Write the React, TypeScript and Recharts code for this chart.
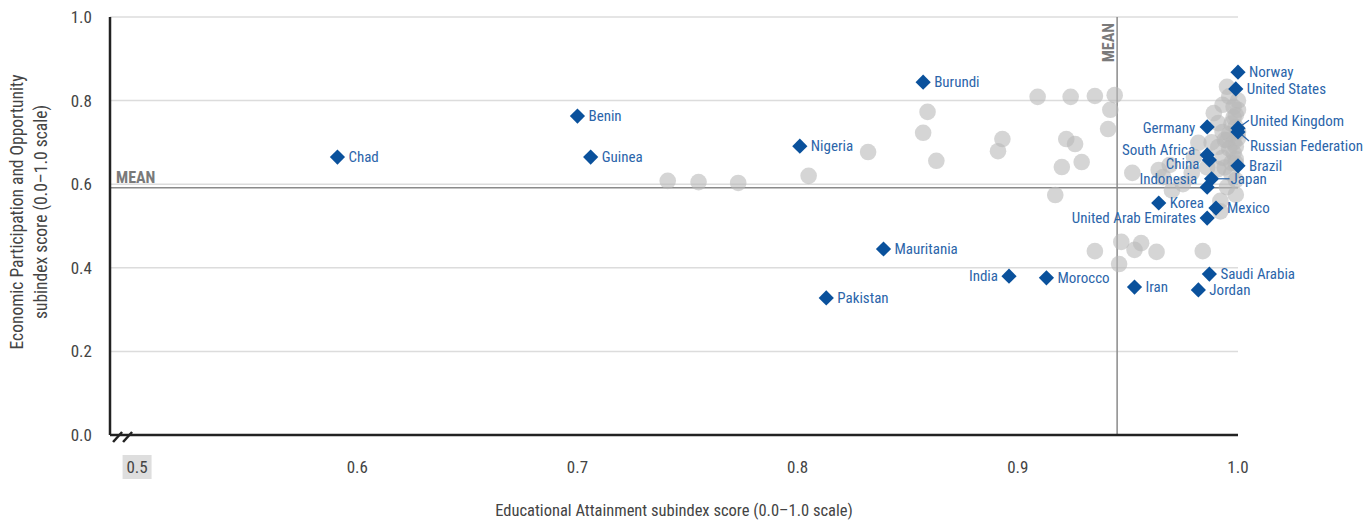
import React from "react";
import {
  ScatterChart,
  Scatter,
  XAxis,
  YAxis,
  CartesianGrid,
  ReferenceLine,
  Label,
} from "recharts";

const FONT =
  "'Liberation Sans Narrow', 'Arial Narrow', 'Roboto Condensed', 'DejaVu Sans Condensed', sans-serif";

// highlighted countries
const countries = [
  "Chad", "Benin", "Guinea", "Nigeria", "Burundi", "Mauritania", "Pakistan",
  "India", "Morocco", "Iran", "Jordan", "Saudi Arabia", "Korea",
  "United Arab Emirates", "Mexico", "Indonesia", "Japan", "China",
  "South Africa", "Germany", "Norway", "United States", "United Kingdom",
  "Russian Federation", "Brazil",
];
const educationScores = [
  0.591, 0.7, 0.706, 0.801, 0.857, 0.839, 0.813,
  0.896, 0.913, 0.953, 0.982, 0.987, 0.964,
  0.986, 0.99, 0.986, 0.988, 0.987,
  0.986, 0.986, 1.0, 0.999, 1.0,
  1.0, 1.0,
];
const economicScores = [
  0.665, 0.763, 0.665, 0.691, 0.844, 0.445, 0.328,
  0.38, 0.376, 0.354, 0.347, 0.385, 0.555,
  0.519, 0.543, 0.593, 0.613, 0.658,
  0.67, 0.737, 0.868, 0.828, 0.734,
  0.725, 0.644,
];

// all other countries (grey dots)
const otherEducation = [
  0.741, 0.755, 0.773, 0.805, 0.832, 0.859, 0.857, 0.863, 0.891, 0.893,
  0.909, 0.924, 0.935, 0.944, 0.942, 0.941, 0.922, 0.926, 0.929, 0.92,
  0.952, 0.917, 0.935, 0.947, 0.953, 0.956, 0.963, 0.946, 0.984,
  0.995, 0.993, 0.991, 1.0, 0.999, 0.994, 0.991, 0.982, 0.98, 0.993,
  0.997, 0.999, 0.995, 0.991, 0.979, 0.969, 0.966, 1.0, 0.998, 0.996,
  0.999, 0.998, 0.994, 0.999, 0.992, 0.988, 0.986, 0.975, 0.97, 0.989,
  0.996, 1.0, 0.999, 0.964, 0.992,
  0.998, 0.999, 0.997, 1.0, 0.998, 0.996, 0.999, 0.997, 0.995, 0.993,
];
const otherEconomic = [
  0.608, 0.605, 0.603, 0.62, 0.677, 0.773, 0.723, 0.656, 0.679, 0.708,
  0.809, 0.809, 0.811, 0.813, 0.778, 0.732, 0.708, 0.696, 0.653, 0.641,
  0.627, 0.574, 0.44, 0.462, 0.443, 0.459, 0.438, 0.409, 0.44,
  0.833, 0.79, 0.746, 0.778, 0.737, 0.706, 0.689, 0.699, 0.665, 0.663,
  0.651, 0.61, 0.593, 0.636, 0.627, 0.646, 0.617, 0.8, 0.76, 0.72,
  0.69, 0.675, 0.64, 0.575, 0.56, 0.7, 0.64, 0.6, 0.585, 0.77,
  0.81, 0.71, 0.66, 0.634, 0.535,
  0.785, 0.765, 0.745, 0.725, 0.7, 0.685, 0.65, 0.625, 0.705, 0.725,
];

const xTicks = [0.5, 0.6, 0.7, 0.8, 0.9, 1.0];
const yTicks = [0, 0.2, 0.4, 0.6, 0.8, 1.0];
const meanEducation = 0.9451;
const meanEconomic = 0.5916;

const highlighted = countries.map((name, i) => ({
  name,
  x: educationScores[i],
  y: economicScores[i],
}));
const others = otherEducation.map((x, i) => ({ x, y: otherEconomic[i] }));

// label placement, pixel offsets from the marker
type Place = { dx: number; dy: number; end?: boolean; leader?: number[] };
const placement: Record<string, Place> = {
  India: { dx: -11, dy: 0, end: true },
  "United Arab Emirates": { dx: -11, dy: 0, end: true },
  Indonesia: { dx: -10, dy: -8, end: true },
  China: { dx: -10, dy: 4, end: true },
  "South Africa": { dx: -12, dy: -5, end: true },
  Germany: { dx: -12, dy: 1, end: true },
  Japan: { dx: 19, dy: 0, leader: [7, 0, 18, 0] },
  "United Kingdom": { dx: 12, dy: -7, leader: [4, -3, 11, -8] },
  "Russian Federation": { dx: 12, dy: 14, leader: [4, 3, 11, 9] },
};

const BLUE = "#0a519c";
const LABEL_BLUE = "#2b65aa";

function Dot(props: any) {
  const { cx, cy } = props;
  return <circle cx={cx} cy={cy} r={8.3} fill="#b9b9b9" fillOpacity={0.6} />;
}

function Diamond(props: any) {
  const { cx, cy, payload } = props;
  const p = placement[payload.name] || { dx: 11, dy: 0 };
  const s = 7.6;
  return (
    <g>
      <path
        d={`M${cx},${cy - s}L${cx + s},${cy}L${cx},${cy + s}L${cx - s},${cy}Z`}
        fill={BLUE}
      />
      {p.leader && (
        <line
          x1={cx + p.leader[0]}
          y1={cy + p.leader[1]}
          x2={cx + p.leader[2]}
          y2={cy + p.leader[3]}
          stroke={LABEL_BLUE}
          strokeWidth={1.2}
        />
      )}
      <text
        x={cx + p.dx}
        y={cy + p.dy}
        textAnchor={p.end ? "end" : "start"}
        dominantBaseline="central"
        fontFamily={FONT}
        fontSize={15}
        fill={LABEL_BLUE}
      >
        {payload.name}
      </text>
    </g>
  );
}

function XTick(props: any) {
  const { x, y, payload } = props;
  const v = payload.value;
  return (
    <g>
      {v === 0.5 && (
        <>
          <rect x={x - 14.5} y={y + 20} width={29} height={24} fill="#dedede" />
          <line x1={x - 24} y1={y + 7} x2={x - 15} y2={y - 3} stroke="#222" strokeWidth={2.5} />
          <line x1={x - 14} y1={y + 7} x2={x - 5} y2={y - 3} stroke="#222" strokeWidth={2.5} />
        </>
      )}
      <text
        x={x}
        y={y + 32}
        textAnchor="middle"
        dominantBaseline="central"
        fontFamily={FONT}
        fontSize={17}
        fill="#444"
      >
        {v.toFixed(1)}
      </text>
    </g>
  );
}

function YTick(props: any) {
  const { x, y, payload } = props;
  return (
    <text
      x={x - 18}
      y={y}
      textAnchor="end"
      dominantBaseline="central"
      fontFamily={FONT}
      fontSize={17}
      fill="#444"
    >
      {payload.value.toFixed(1)}
    </text>
  );
}

function YTitle(props: any) {
  const { viewBox } = props;
  const cy = viewBox.y + 195;
  return (
    <g fontFamily={FONT} fontSize={17.5} fill="#444" textAnchor="middle">
      <text x={15} y={cy} transform={`rotate(-90, 15, ${cy})`}>
        Economic Participation and Opportunity
      </text>
      <text x={39} y={cy} transform={`rotate(-90, 39, ${cy})`}>
        subindex score (0.0–1.0 scale)
      </text>
    </g>
  );
}

function MeanH(props: any) {
  const { viewBox } = props;
  return (
    <text
      x={viewBox.x + 6}
      y={viewBox.y - 5}
      fontFamily={FONT}
      fontWeight="bold"
      fontSize={16}
      fill="#7a7a7a"
    >
      MEAN
    </text>
  );
}

function MeanV(props: any) {
  const { viewBox } = props;
  const x = viewBox.x - 3;
  const y = viewBox.y + 6;
  return (
    <text
      x={x}
      y={y}
      transform={`rotate(-90, ${x}, ${y})`}
      textAnchor="end"
      fontFamily={FONT}
      fontWeight="bold"
      fontSize={16}
      fill="#7a7a7a"
    >
      MEAN
    </text>
  );
}

export default function App() {
  return (
    <div style={{ width: 1355, height: 514 }}>
      <ScatterChart
        width={1355}
        height={514}
        margin={{ top: 9, right: 125, left: 0, bottom: 0 }}
      >
        <CartesianGrid
          vertical={false}
          stroke="#dcdcdc"
          strokeWidth={1.5}
        />
        <XAxis
          type="number"
          dataKey="x"
          domain={[0.4877, 1.0]}
          ticks={xTicks}
          tick={<XTick />}
          tickLine={false}
          tickSize={0}
          tickMargin={0}
          height={87}
          axisLine={{ stroke: "#222", strokeWidth: 2.5 }}
        >
          <Label
            value="Educational Attainment subindex score (0.0–1.0 scale)"
            position="insideBottom"
            offset={6}
            style={{ fontFamily: FONT, fontSize: 16.5, fill: "#444" }}
          />
        </XAxis>
        <YAxis
          type="number"
          dataKey="y"
          domain={[0, 1]}
          ticks={yTicks}
          tick={<YTick />}
          tickLine={false}
          tickSize={0}
          tickMargin={0}
          width={102}
          axisLine={{ stroke: "#222", strokeWidth: 2.5 }}
        >
          <Label content={<YTitle />} />
        </YAxis>
        <ReferenceLine
          y={meanEconomic}
          stroke="#8a8a8a"
          strokeWidth={1.5}
          label={<MeanH />}
        />
        <ReferenceLine
          x={meanEducation}
          stroke="#8a8a8a"
          strokeWidth={1.5}
          label={<MeanV />}
        />
        <Scatter data={others} shape={<Dot />} isAnimationActive={false} />
        <Scatter data={highlighted} shape={<Diamond />} isAnimationActive={false} />
      </ScatterChart>
    </div>
  );
}
